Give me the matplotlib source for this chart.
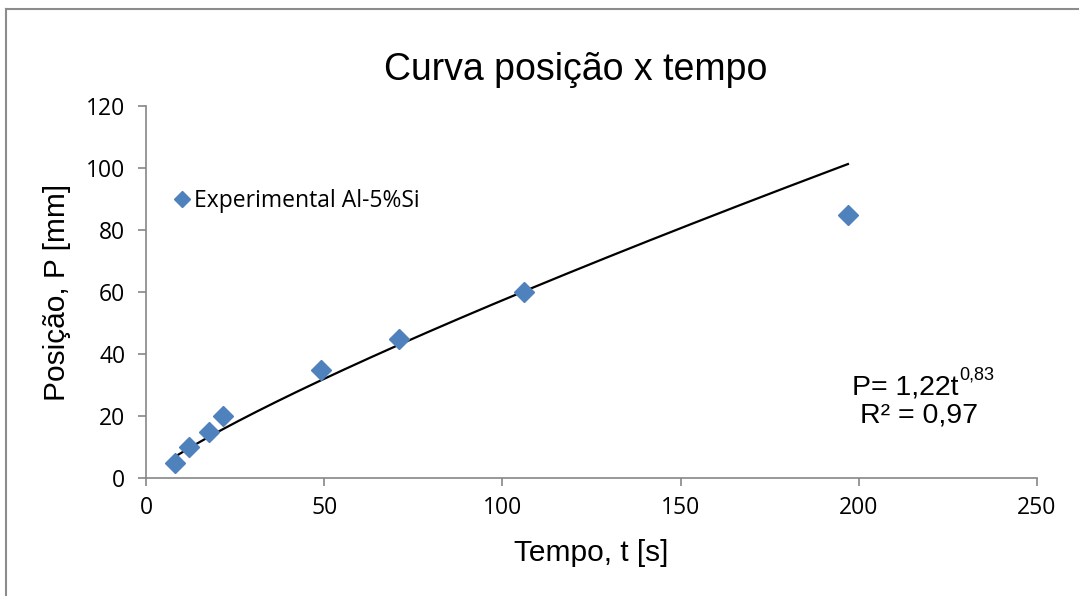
import numpy as np
import matplotlib
matplotlib.use("Agg")
import matplotlib.pyplot as plt
from matplotlib.lines import Line2D

# Data
tempo = [8, 12, 17.5, 21.5, 49, 71, 106, 197]
posicao = [5, 10, 15, 20, 35, 45, 60, 85]
trend_a = 1.21
trend_b = 0.838
x_ticks = [0, 50, 100, 150, 200, 250]
y_ticks = [0, 20, 40, 60, 80, 100, 120]

W, H = 1079, 596
fig = plt.figure(figsize=(W / 100, H / 100), dpi=100)
fig.patch.set_facecolor("white")

# outer chart border
border = "#8c8c8c"
fig.add_artist(Line2D([6 / W, 6 / W], [0, 1 - 9 / H], transform=fig.transFigure, color=border, lw=1.5))
fig.add_artist(Line2D([6 / W, 1], [1 - 9 / H, 1 - 9 / H], transform=fig.transFigure, color=border, lw=1.5))

ax = fig.add_axes([146.3 / W, 1 - 478.3 / H, (1036.7 - 146.3) / W, (478.3 - 106) / H])
ax.set_xlim(0, 250)
ax.set_ylim(0, 120)

tt = np.linspace(tempo[0], tempo[-1], 200)
ax.plot(tt, trend_a * tt ** trend_b, color="black", lw=1.6, zorder=2)
ax.plot(tempo, posicao, linestyle="none", marker="D", markersize=10.0,
        color="#4F81BD", markeredgecolor="#4F81BD", zorder=3, label="Experimental Al-5%Si")

for s in ["top", "right"]:
    ax.spines[s].set_visible(False)
for s in ["left", "bottom"]:
    ax.spines[s].set_color("#868686")
    ax.spines[s].set_linewidth(1.2)

tick_font = "Open Sans"
ax.set_xticks(x_ticks)
ax.set_yticks(y_ticks)
ax.tick_params(axis="both", direction="out", length=6, width=1.2, color="#868686",
               labelsize=16.5)
ax.tick_params(axis="x", pad=7)
ax.tick_params(axis="y", pad=9)
for lab in ax.get_xticklabels() + ax.get_yticklabels():
    lab.set_fontfamily(tick_font)

fig.text(591 / W, 1 - 553 / H, "Tempo, t [s]", fontsize=21.5,
         fontfamily="Liberation Sans", ha="center", va="center")
fig.text(57 / W, 1 - 292 / H, "Posição, P [mm]", fontsize=21.5, rotation=90,
         fontfamily="Liberation Sans", ha="center", va="center")

fig.text(576 / W, 1 - 70 / H, "Curva posição x tempo", fontsize=27,
         fontfamily="Liberation Sans", ha="center", va="center")

ax.legend(loc="center left", bbox_to_anchor=(0.005, 0.745), frameon=False,
          prop={"family": tick_font, "size": 16.5}, handletextpad=0.1,
          markerscale=0.8, handlelength=0.9)

fig.text(852 / W, 1 - 395 / H, "P= 1,22t", fontsize=20.5,
         fontfamily="Liberation Sans", ha="left", va="baseline")
fig.text(959 / W, 1 - 367 / H, "0,83", fontsize=13,
         fontfamily="Liberation Sans", ha="left", va="top")
fig.text(919 / W, 1 - 423 / H, "R² = 0,97", fontsize=20.5,
         fontfamily="Liberation Sans", ha="center", va="baseline")

fig.savefig("out.png", dpi=100)
